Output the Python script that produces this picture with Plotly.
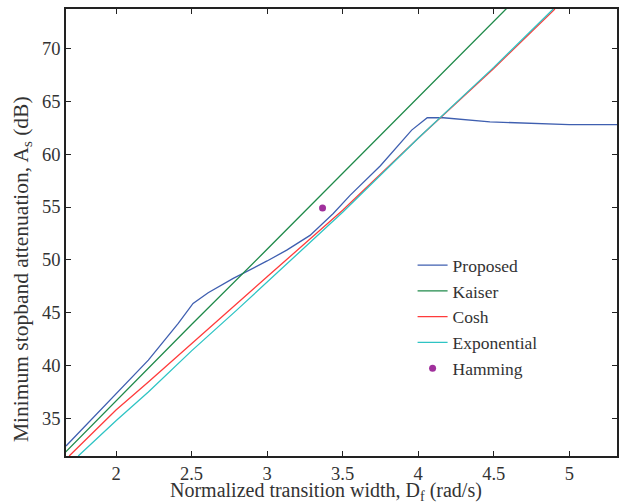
import plotly.graph_objects as go

# Proposed window
prop_x = [1.669, 2.0, 2.214, 2.412, 2.51, 2.61, 2.776, 3.0, 3.13, 3.284, 3.438, 3.549, 3.75, 3.957, 4.06, 4.166, 4.475, 5.0, 5.316]
prop_y = [32.41, 37.3, 40.52, 43.99, 45.88, 46.9, 48.25, 49.9, 50.92, 52.32, 54.39, 56.1, 58.9, 62.27, 63.44, 63.44, 63.05, 62.78, 62.78]

# Kaiser window
kais_x = [1.65, 2.0, 2.5, 3.0, 3.5, 4.0, 4.5, 4.65]
kais_y = [31.6, 36.7, 43.9, 51.0, 58.2, 65.4, 72.6, 74.7]

# Cosh window
cosh_x = [1.69, 2.0, 2.214, 2.5, 2.754, 3.0, 3.5, 4.0, 4.5, 4.905]
cosh_y = [31.46, 35.8, 38.46, 42.1, 45.25, 48.4, 54.7, 61.5, 68.1, 73.72]

# Exponential window
expo_x = [1.75, 2.0, 2.214, 2.5, 2.799, 3.0, 3.5, 4.0, 4.5, 4.894]
expo_y = [31.46, 34.8, 37.52, 41.4, 45.25, 47.9, 54.5, 61.5, 68.2, 73.72]

# Hamming window
hamm_x = [3.367]
hamm_y = [54.9]

x_ticks = [2, 2.5, 3, 3.5, 4, 4.5, 5]
x_ticklabels = ["2", "2.5", "3", "3.5", "4", "4.5", "5"]
y_ticks = [35, 40, 45, 50, 55, 60, 65, 70]
y_ticklabels = ["35", "40", "45", "50", "55", "60", "65", "70"]

x_title = "Normalized transition width, D<sub>f</sub> (rad/s)"
y_title = "Minimum stopband attenuation, A<sub>s</sub> (dB)"

FONT = "Liberation Serif"
TXT = "#333333"

fig = go.Figure()
fig.add_trace(go.Scatter(x=prop_x, y=prop_y, mode="lines", name="Proposed",
                         line=dict(color="#3f5fb0", width=1.3)))
fig.add_trace(go.Scatter(x=kais_x, y=kais_y, mode="lines", name="Kaiser",
                         line=dict(color="#1f8a4a", width=1.3)))
fig.add_trace(go.Scatter(x=cosh_x, y=cosh_y, mode="lines", name="Cosh",
                         line=dict(color="#ff3b3b", width=1.3)))
fig.add_trace(go.Scatter(x=expo_x, y=expo_y, mode="lines", name="Exponential",
                         line=dict(color="#2ec4c4", width=1.3)))
fig.add_trace(go.Scatter(x=hamm_x, y=hamm_y, mode="markers", name="Hamming",
                         marker=dict(color="#a0309c", size=7)))

axis_common = dict(
    showgrid=False, zeroline=False, showline=True, linecolor="#222222", linewidth=1.5,
    mirror="allticks", ticks="inside", ticklen=5, tickwidth=1.2, tickcolor="#222222",
    tickfont=dict(family=FONT, size=18.5, color=TXT), automargin=False,
)

fig.update_layout(
    width=620, height=503,
    margin=dict(l=66, r=3, t=9, b=47),
    paper_bgcolor="white", plot_bgcolor="white",
    font=dict(family=FONT, size=18, color=TXT),
    showlegend=True,
    legend=dict(x=0.629, y=0.467, xanchor="left", yanchor="top",
                bgcolor="rgba(0,0,0,0)", borderwidth=0,
                font=dict(family=FONT, size=17.5, color=TXT),
                tracegroupgap=0),
    xaxis=dict(range=[1.669, 5.316], tickvals=x_ticks, ticktext=x_ticklabels, **axis_common),
    yaxis=dict(range=[31.46, 73.72], tickvals=y_ticks, ticktext=y_ticklabels, **axis_common),
    annotations=[
        dict(text=x_title, xref="paper", yref="paper", x=0.472, y=-0.08,
             xanchor="center", yanchor="middle", showarrow=False,
             font=dict(family=FONT, size=20, color=TXT)),
        dict(text=y_title, xref="paper", yref="paper", x=-0.08, y=0.418,
             xanchor="center", yanchor="middle", showarrow=False, textangle=-90,
             font=dict(family=FONT, size=21.5, color=TXT)),
    ],
)

fig.write_html("out.html")
